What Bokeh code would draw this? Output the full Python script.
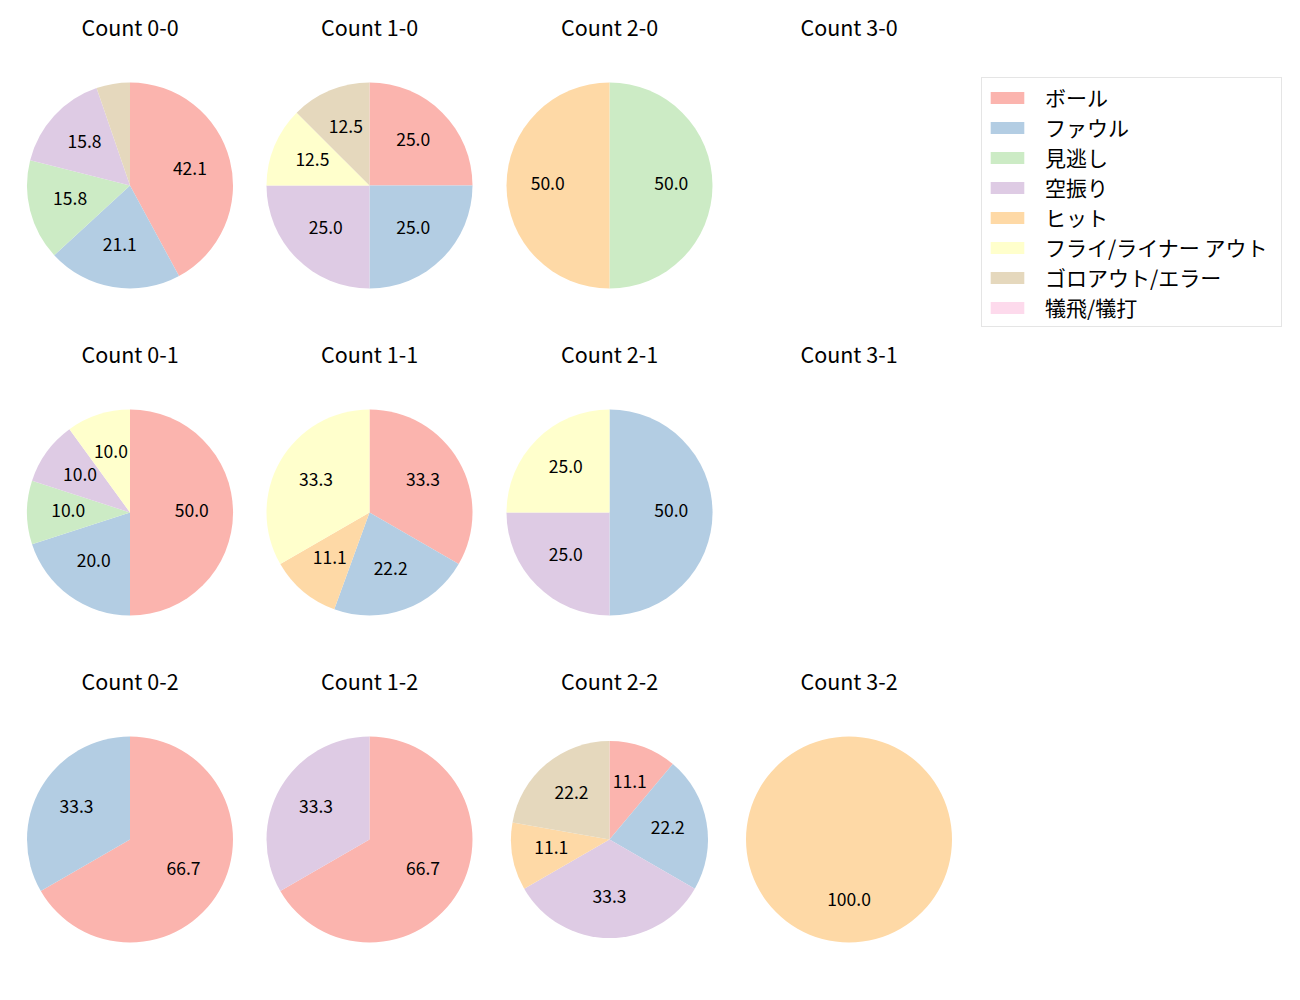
import math
from bokeh.plotting import figure
from bokeh.models import ColumnDataSource, Range1d, Legend, LegendItem
from bokeh.core.properties import value
from bokeh.embed import file_html
from bokeh.resources import INLINE

FONT = "Noto Sans CJK JP"

categories = ["ボール", "ファウル", "見逃し", "空振り", "ヒット",
              "フライ/ライナー アウト", "ゴロアウト/エラー", "犠飛/犠打"]
colors = ["#fbb4ae", "#b3cde3", "#ccebc5", "#decbe4", "#fed9a6",
          "#ffffcc", "#e5d8bd", "#fddaec"]

# pitch counts per category (order as categories) for each ball-strike count
count_0_0 = [8, 4, 3, 3, 0, 0, 1, 0]
count_1_0 = [2, 2, 0, 2, 0, 1, 1, 0]
count_2_0 = [0, 0, 1, 0, 1, 0, 0, 0]
count_3_0 = [0, 0, 0, 0, 0, 0, 0, 0]
count_0_1 = [5, 2, 1, 1, 0, 1, 0, 0]
count_1_1 = [3, 2, 0, 0, 1, 3, 0, 0]
count_2_1 = [0, 2, 0, 1, 0, 1, 0, 0]
count_3_1 = [0, 0, 0, 0, 0, 0, 0, 0]
count_0_2 = [2, 1, 0, 0, 0, 0, 0, 0]
count_1_2 = [2, 0, 0, 1, 0, 0, 0, 0]
count_2_2 = [1, 2, 0, 3, 1, 0, 2, 0]
count_3_2 = [0, 0, 0, 0, 1, 0, 0, 0]

pies = {
    (0, 0): count_0_0, (1, 0): count_1_0, (2, 0): count_2_0, (3, 0): count_3_0,
    (0, 1): count_0_1, (1, 1): count_1_1, (2, 1): count_2_1, (3, 1): count_3_1,
    (0, 2): count_0_2, (1, 2): count_1_2, (2, 2): count_2_2, (3, 2): count_3_2,
}

# layout (image pixel positions)
col_x = [129.5, 369, 609, 848.5]
row_y = [185, 512, 839]
base_r = 103
radius_override = {(2, 2): 98.5}
title_off = 159
text_nudge = 2

W, H = 1284, 984
p = figure(width=W, height=H, output_backend="svg", toolbar_location=None,
           x_range=Range1d(0, W), y_range=Range1d(0, H),
           min_border=0, x_axis_location=None, y_axis_location=None)
p.grid.visible = False
p.outline_line_color = None
p.background_fill_color = "white"
p.border_fill_color = "white"

def Y(py):
    return H - py

wedges = {i: dict(x=[], y=[], r=[], s=[], e=[]) for i in range(len(categories))}
lab = dict(x=[], y=[], t=[])
tit = dict(x=[], y=[], t=[])

for (b, s), vals in pies.items():
    cx, cy = col_x[b], Y(row_y[s])
    r = radius_override.get((b, s), base_r)
    tit["x"].append(cx)
    tit["y"].append(Y(row_y[s] - title_off))
    tit["t"].append(f"Count {b}-{s}")
    total = sum(vals)
    if total == 0:
        continue
    cum = 0.0
    for i, v in enumerate(vals):
        if v == 0:
            continue
        f0 = cum / total
        f1 = (cum + v) / total
        cum += v
        a0 = math.pi / 2 - f1 * 2 * math.pi
        a1 = math.pi / 2 - f0 * 2 * math.pi
        if f1 - f0 > 0.9999:
            a1 -= 1e-4
        d = wedges[i]
        d["x"].append(cx); d["y"].append(cy); d["r"].append(r)
        d["s"].append(a0); d["e"].append(a1)
        pct = v / total * 100
        if pct >= 6:
            mid = (a0 + a1) / 2
            lab["x"].append(cx + 0.6 * r * math.cos(mid))
            lab["y"].append(cy + 0.6 * r * math.sin(mid) + text_nudge)
            lab["t"].append(f"{pct:.1f}")

items = []
for i, cat in enumerate(categories):
    d = wedges[i]
    if not d["x"]:
        # zero-size placeholder so the legend swatch is drawn
        d = dict(x=[col_x[0]], y=[Y(row_y[0])], r=[0.0], s=[0.0], e=[0.0])
    src = ColumnDataSource(d)
    rend = p.wedge(x="x", y="y", radius="r", start_angle="s", end_angle="e",
                   direction="anticlock", source=src, fill_color=colors[i],
                   line_color=None)
    items.append(LegendItem(label=cat, renderers=[rend]))

p.text(x="x", y="y", text="t", source=ColumnDataSource(lab),
       text_font=value(FONT), text_font_size="17.5px", text_color="black",
       text_align="center", text_baseline="middle")
p.text(x="x", y="y", text="t", source=ColumnDataSource(tit),
       text_font=value(FONT), text_font_size="21.5px", text_color="black",
       text_align="center", text_baseline="middle")

legend = Legend(items=items, location=(981, 657), orientation="vertical",
                label_text_font=FONT, label_text_font_size="21px",
                label_text_color="black",
                glyph_width=42, glyph_height=15, label_standoff=17,
                label_height=28, label_width=232, spacing=0, padding=4,
                margin=0,
                border_line_color="#cccccc", border_line_width=1,
                background_fill_color="white", background_fill_alpha=1.0)
p.add_layout(legend, "center")

open("out.html", "w").write(file_html(p, INLINE))
